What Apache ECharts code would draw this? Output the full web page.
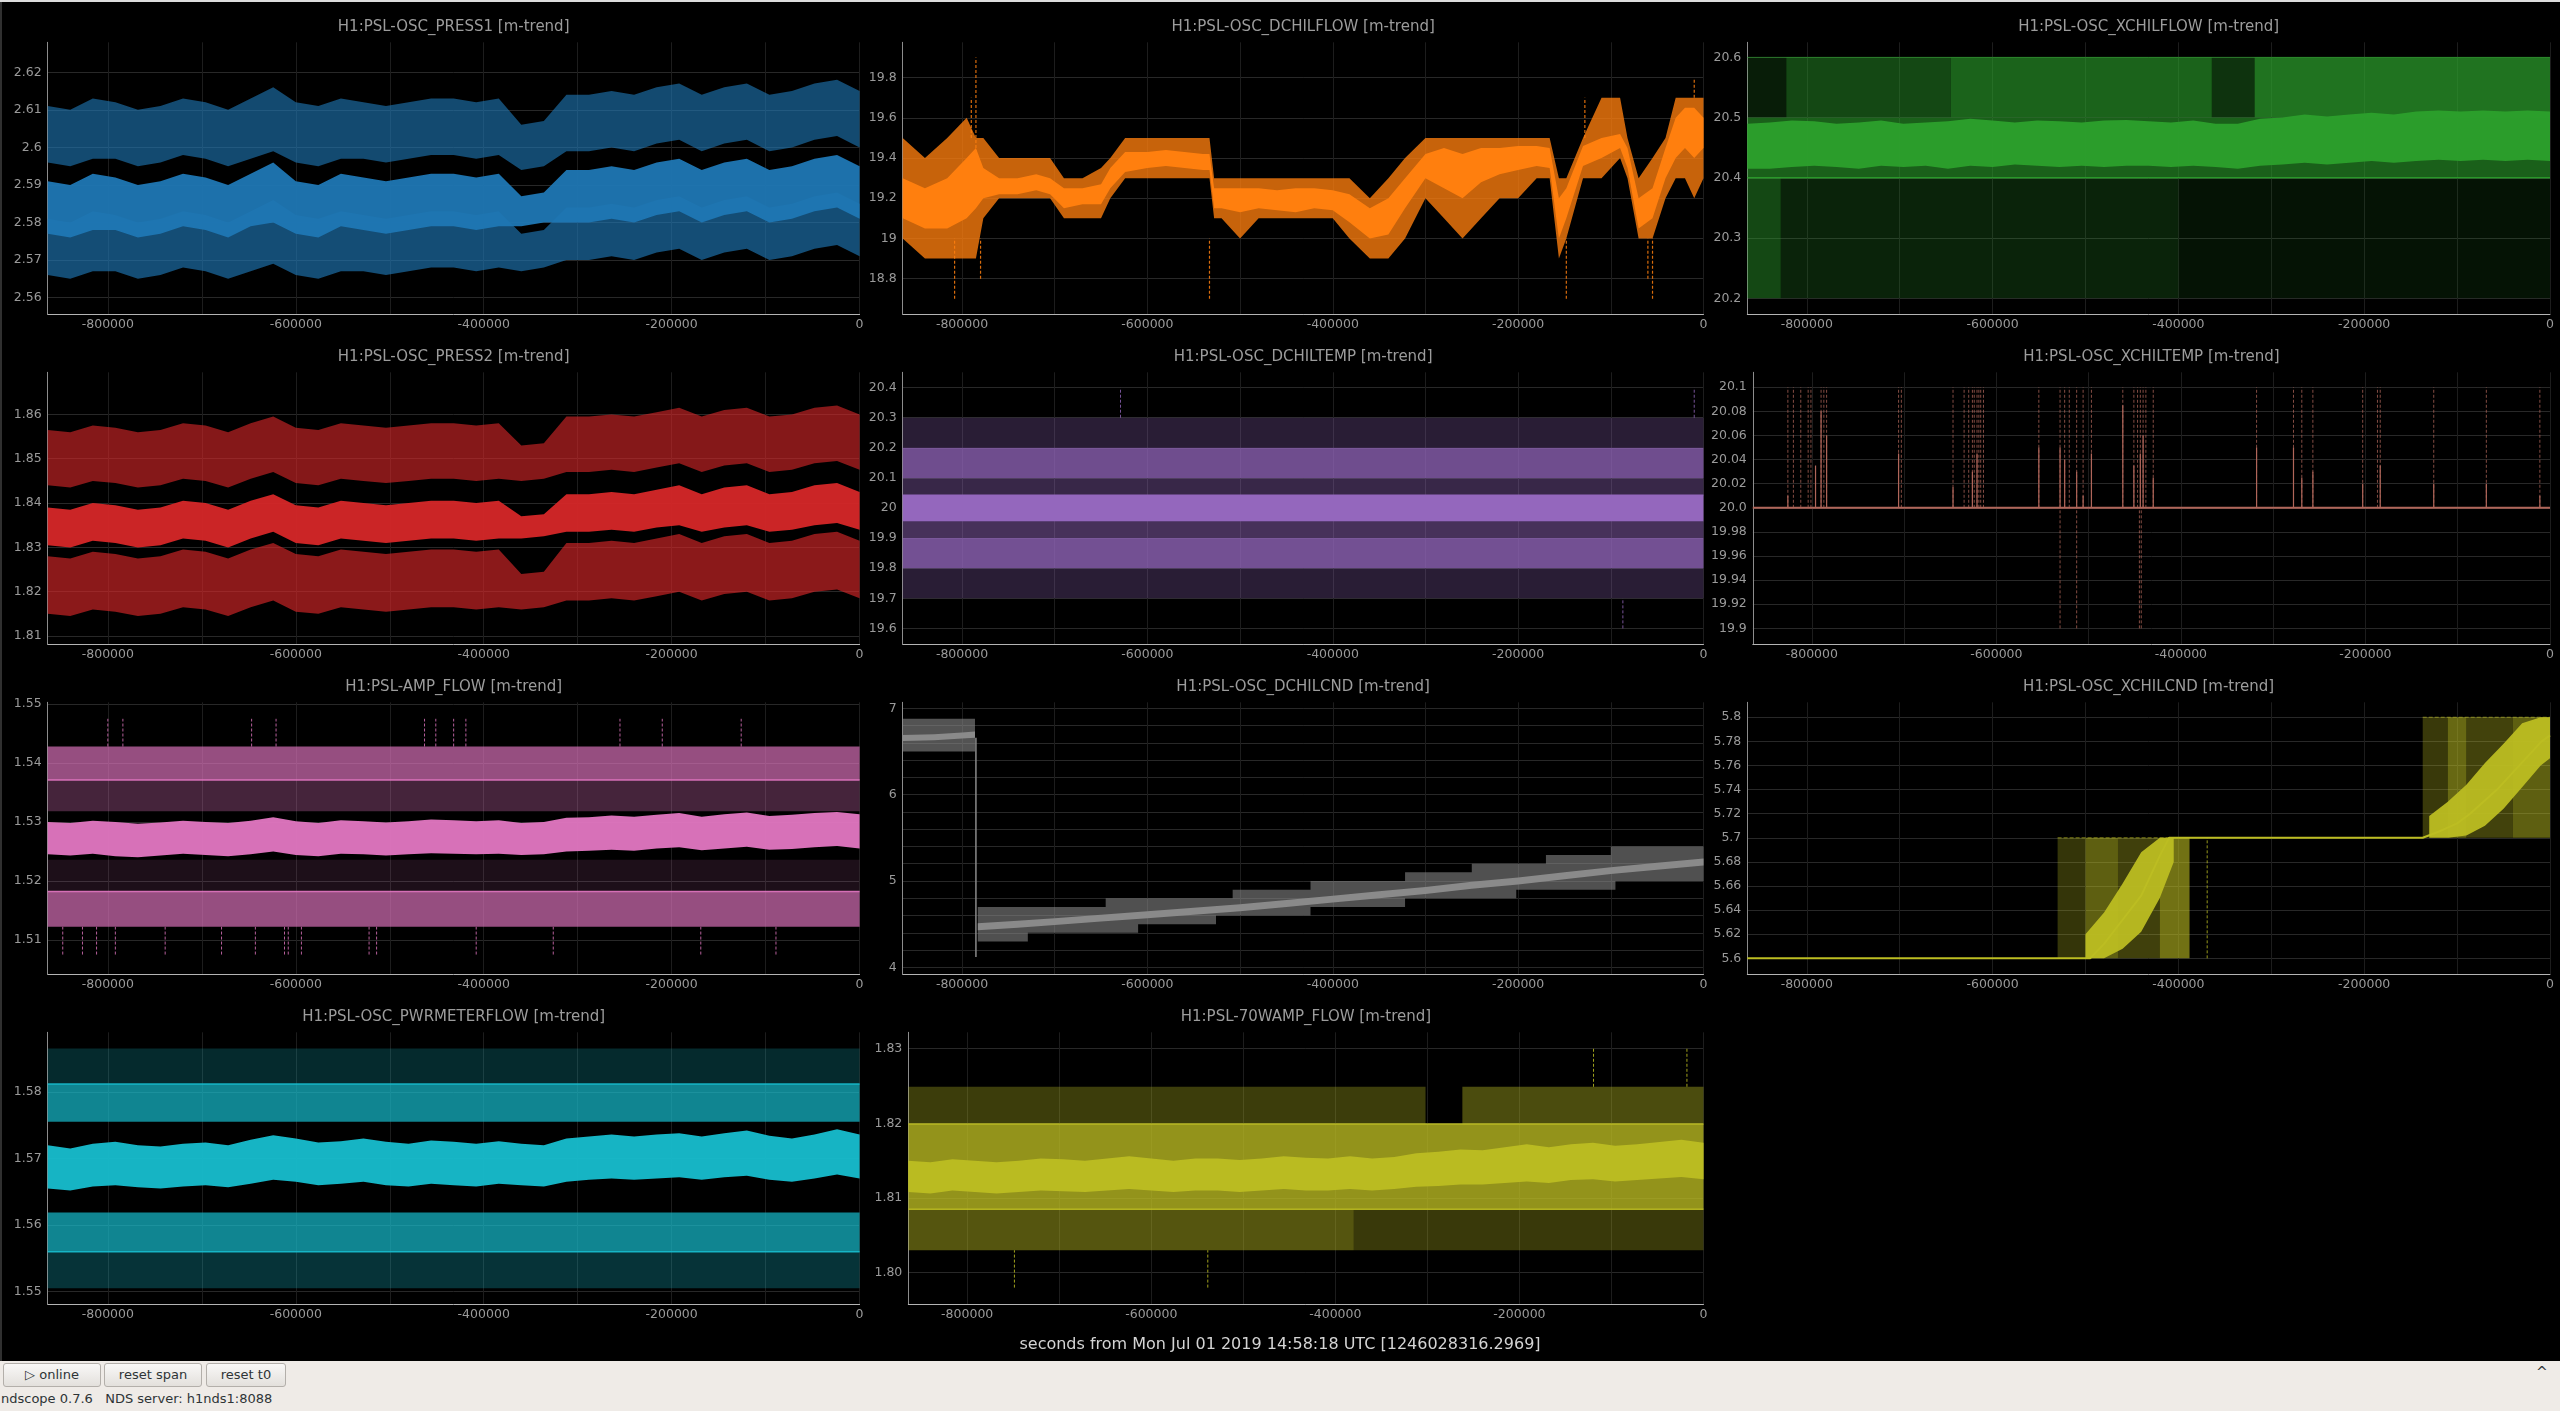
<!DOCTYPE html>
<html><head><meta charset="utf-8">
<script src="https://cdn.jsdelivr.net/npm/echarts@6/dist/echarts.min.js"></script>
<style>
html,body{margin:0;padding:0;background:#000;width:2560px;height:1411px;overflow:hidden;font-family:"DejaVu Sans",sans-serif}
#chart{position:absolute;left:0;top:0;width:2560px;height:1361px}
#bar{position:absolute;left:0;top:1361px;width:2560px;height:50px;background:#efebe7}
.btn{position:absolute;top:2px;height:22px;border:1px solid #b3afaa;border-radius:3px;background:linear-gradient(#f9f8f7,#e3e0dc);font-size:13px;color:#2e3436;text-align:center;line-height:22px}
#status{position:absolute;left:1px;top:30px;font-size:13px;color:#2e3436;white-space:pre}
#caret{position:absolute;left:2536px;top:3px;font-size:14px;color:#2e3436}
</style></head>
<body>
<div id="chart"></div>
<div id="bar">
  <div class="btn" style="left:3px;width:96px">▷ online</div>
  <div class="btn" style="left:104px;width:96px">reset span</div>
  <div class="btn" style="left:206px;width:78px">reset t0</div>
  <div id="caret">^</div>
  <div id="status">ndscope 0.7.6   NDS server: h1nds1:8088</div>
</div>
<script>
// ---------------- data ----------------
const X_LABEL_VALUES = [-800000,-600000,-400000,-200000,0];
const X_GRID_VALUES = [-800000,-700000,-600000,-500000,-400000,-300000,-200000,-100000,0];
const T37 = [-864000,-840000,-816000,-792000,-768000,-744000,-720000,-696000,-672000,-648000,-624000,-600000,-576000,-552000,-528000,-504000,-480000,-456000,-432000,-408000,-384000,-360000,-336000,-312000,-288000,-264000,-240000,-216000,-192000,-168000,-144000,-120000,-96000,-72000,-48000,-24000,0];
const FULL_T = [-864000,0];

// PRESS1
const press1Ticks = [2.56,2.57,2.58,2.59,2.6,2.61,2.62];
const press1Labels = ['2.56','2.57','2.58','2.59','2.6','2.61','2.62'];
const press1MeanLo = [2.577,2.576,2.578,2.578,2.576,2.577,2.579,2.578,2.576,2.579,2.580,2.577,2.576,2.579,2.578,2.577,2.578,2.579,2.579,2.578,2.579,2.579,2.580,2.580,2.580,2.581,2.580,2.582,2.583,2.580,2.582,2.583,2.580,2.581,2.583,2.584,2.581];
const press1MeanHi = [2.591,2.590,2.593,2.592,2.590,2.591,2.593,2.592,2.590,2.593,2.596,2.591,2.590,2.593,2.592,2.591,2.592,2.593,2.593,2.592,2.593,2.587,2.588,2.594,2.594,2.595,2.594,2.596,2.597,2.594,2.596,2.597,2.594,2.595,2.597,2.598,2.595];
const press1MaxLo = [2.596,2.595,2.597,2.597,2.595,2.596,2.598,2.597,2.595,2.597,2.599,2.596,2.595,2.597,2.597,2.596,2.597,2.598,2.598,2.597,2.598,2.594,2.595,2.599,2.599,2.600,2.599,2.601,2.602,2.599,2.601,2.602,2.599,2.600,2.602,2.603,2.600];
const press1MaxHi = [2.611,2.610,2.613,2.612,2.610,2.611,2.613,2.612,2.610,2.613,2.616,2.612,2.611,2.613,2.612,2.611,2.612,2.613,2.613,2.612,2.613,2.606,2.607,2.614,2.614,2.615,2.614,2.616,2.617,2.614,2.616,2.617,2.614,2.615,2.617,2.618,2.615];
const press1MinLo = [2.566,2.565,2.567,2.567,2.565,2.566,2.568,2.567,2.565,2.567,2.569,2.566,2.565,2.567,2.567,2.566,2.567,2.568,2.568,2.567,2.568,2.567,2.568,2.570,2.570,2.571,2.570,2.572,2.573,2.570,2.572,2.573,2.570,2.571,2.573,2.574,2.571];
const press1MinHi = [2.581,2.580,2.583,2.582,2.580,2.581,2.583,2.582,2.580,2.583,2.586,2.582,2.581,2.583,2.582,2.581,2.582,2.583,2.583,2.582,2.583,2.577,2.578,2.584,2.584,2.585,2.584,2.586,2.587,2.584,2.586,2.587,2.584,2.585,2.587,2.588,2.585];

// PRESS2
const press2Ticks = [1.81,1.82,1.83,1.84,1.85,1.86];
const press2Labels = ['1.81','1.82','1.83','1.84','1.85','1.86'];
const press2MeanLo = [1.8305,1.8300,1.8315,1.8310,1.8300,1.8305,1.8320,1.8315,1.8300,1.8320,1.8335,1.8310,1.8305,1.8320,1.8315,1.8310,1.8315,1.8320,1.8320,1.8315,1.8320,1.8320,1.8325,1.8335,1.8335,1.8340,1.8335,1.8345,1.8350,1.8335,1.8345,1.8350,1.8335,1.8340,1.8350,1.8355,1.8340];
const press2MeanHi = [1.8390,1.8385,1.8400,1.8395,1.8385,1.8390,1.8405,1.8400,1.8385,1.8405,1.8420,1.8395,1.8390,1.8405,1.8400,1.8395,1.8400,1.8405,1.8405,1.8400,1.8405,1.8370,1.8375,1.8420,1.8420,1.8425,1.8420,1.8430,1.8440,1.8420,1.8435,1.8440,1.8420,1.8425,1.8440,1.8445,1.8425];
const press2MaxLo = [1.8440,1.8435,1.8450,1.8445,1.8435,1.8440,1.8455,1.8450,1.8435,1.8455,1.8470,1.8445,1.8440,1.8455,1.8450,1.8445,1.8450,1.8455,1.8455,1.8450,1.8455,1.8450,1.8455,1.8470,1.8470,1.8475,1.8470,1.8480,1.8490,1.8470,1.8485,1.8490,1.8470,1.8475,1.8490,1.8495,1.8475];
const press2MaxHi = [1.8565,1.8560,1.8575,1.8570,1.8560,1.8565,1.8580,1.8575,1.8560,1.8580,1.8595,1.8570,1.8565,1.8580,1.8575,1.8570,1.8575,1.8580,1.8580,1.8575,1.8580,1.8530,1.8535,1.8595,1.8595,1.8600,1.8595,1.8605,1.8615,1.8595,1.8610,1.8615,1.8595,1.8600,1.8615,1.8620,1.8600];
const press2MinLo = [1.8150,1.8145,1.8160,1.8155,1.8145,1.8150,1.8165,1.8160,1.8145,1.8165,1.8180,1.8155,1.8150,1.8165,1.8160,1.8155,1.8160,1.8165,1.8165,1.8160,1.8165,1.8160,1.8165,1.8180,1.8180,1.8185,1.8180,1.8190,1.8200,1.8180,1.8195,1.8200,1.8180,1.8185,1.8200,1.8205,1.8185];
const press2MinHi = [1.8280,1.8275,1.8290,1.8285,1.8275,1.8280,1.8295,1.8290,1.8275,1.8295,1.8310,1.8285,1.8280,1.8295,1.8290,1.8285,1.8290,1.8295,1.8295,1.8290,1.8295,1.8240,1.8245,1.8310,1.8310,1.8315,1.8310,1.8320,1.8330,1.8310,1.8325,1.8330,1.8310,1.8315,1.8330,1.8335,1.8315];

// DCHILFLOW
const dflowTicks = [18.8,19,19.2,19.4,19.6,19.8];
const dflowLabels = ['18.8','19','19.2','19.4','19.6','19.8'];
const dflowT = [-864000,-840000,-816000,-795000,-785000,-777000,-760000,-740000,-720000,-705000,-690000,-670000,-650000,-640000,-624000,-600000,-580000,-560000,-540000,-533000,-528000,-520000,-500000,-480000,-460000,-440000,-420000,-400000,-382000,-360000,-340000,-322000,-300000,-280000,-260000,-240000,-220000,-200000,-180000,-166000,-156000,-148000,-130000,-110000,-90000,-82000,-70000,-55000,-41000,-30000,-20000,-10000,0];
const dflowEnvLo = [19.0,18.9,18.9,18.9,18.9,19.1,19.2,19.2,19.2,19.2,19.1,19.1,19.1,19.2,19.3,19.3,19.3,19.3,19.3,19.3,19.1,19.1,19.0,19.1,19.1,19.1,19.1,19.1,19.0,18.9,18.9,19.0,19.2,19.1,19.0,19.1,19.2,19.2,19.3,19.3,18.9,19.0,19.3,19.3,19.4,19.3,19.0,19.0,19.2,19.3,19.3,19.2,19.3];
const dflowEnvHi = [19.5,19.4,19.5,19.6,19.5,19.5,19.4,19.4,19.4,19.4,19.3,19.3,19.35,19.4,19.5,19.5,19.5,19.5,19.5,19.5,19.3,19.3,19.3,19.3,19.3,19.3,19.3,19.3,19.3,19.2,19.3,19.4,19.5,19.5,19.5,19.5,19.5,19.5,19.5,19.5,19.3,19.3,19.5,19.7,19.7,19.5,19.3,19.4,19.5,19.7,19.7,19.7,19.7];
const dflowMeanLo = [19.10,19.05,19.05,19.10,19.15,19.20,19.22,19.22,19.24,19.22,19.15,19.17,19.17,19.25,19.33,19.35,19.36,19.35,19.34,19.34,19.15,19.15,19.13,19.15,19.14,19.13,19.15,19.14,19.08,19.00,19.02,19.15,19.30,19.25,19.20,19.28,19.32,19.34,19.36,19.35,19.00,19.10,19.36,19.40,19.45,19.35,19.05,19.10,19.30,19.40,19.45,19.40,19.45];
const dflowMeanHi = [19.30,19.25,19.30,19.40,19.45,19.35,19.30,19.30,19.32,19.30,19.25,19.25,19.27,19.35,19.43,19.43,19.44,19.43,19.42,19.42,19.25,19.25,19.25,19.25,19.24,19.25,19.25,19.24,19.22,19.15,19.20,19.30,19.42,19.45,19.42,19.45,19.45,19.46,19.46,19.45,19.20,19.25,19.46,19.50,19.52,19.45,19.20,19.25,19.45,19.60,19.65,19.65,19.60];
const dflowSpikeT = [-808000,-790000,-785000,-780000,-533000,-148000,-128000,-60000,-55000,-10000];
const dflowSpikeLo = [18.7,19.5,19.4,18.8,18.7,18.7,19.5,18.8,18.7,19.7];
const dflowSpikeHi = [19.0,19.7,19.9,19.0,19.0,19.0,19.7,19.0,19.0,19.8];

// XCHILFLOW
const xflowTicks = [20.2,20.3,20.4,20.5,20.6];
const xflowLabels = ['20.2','20.3','20.4','20.5','20.6'];
const xflowMeanLo = [20.415,20.415,20.418,20.42,20.418,20.415,20.42,20.418,20.42,20.415,20.42,20.418,20.422,20.42,20.418,20.42,20.418,20.42,20.42,20.418,20.42,20.418,20.415,20.42,20.422,20.425,20.422,20.425,20.428,20.425,20.428,20.43,20.428,20.43,20.428,20.43,20.428];
const xflowMeanHi = [20.49,20.492,20.495,20.494,20.49,20.492,20.495,20.49,20.492,20.494,20.498,20.495,20.492,20.495,20.494,20.492,20.495,20.496,20.494,20.492,20.495,20.49,20.49,20.498,20.5,20.505,20.502,20.505,20.508,20.505,20.51,20.512,20.51,20.512,20.51,20.512,20.51];
const xflowBlkStart = [-864000,-822000,-645000,-364000,-318000,-864000,-864000,-828000,-400000];
const xflowBlkEnd = [-822000,-645000,-364000,-318000,0,0,-828000,-400000,0];
const xflowBlkLo = [20.5,20.5,20.5,20.5,20.5,20.4,20.2,20.2,20.2];
const xflowBlkHi = [20.6,20.6,20.6,20.6,20.6,20.5,20.4,20.4,20.4];
const xflowBlkAlpha = [0.18,0.45,0.62,0.32,0.72,0.6,0.45,0.22,0.12];
const xflowLine1 = [20.4,20.4];
const xflowLine2 = [20.6,20.6];

// DCHILTEMP
const dtempTicks = [19.6,19.7,19.8,19.9,20,20.1,20.2,20.3,20.4];
const dtempLabels = ['19.6','19.7','19.8','19.9','20','20.1','20.2','20.3','20.4'];
const dtempBlkStart = [-864000,-864000,-864000,-864000,-864000,-864000,-864000];
const dtempBlkEnd = [0,0,0,0,0,0,0];
const dtempBlkLo = [20.2,20.1,20.04,19.955,19.9,19.8,19.7];
const dtempBlkHi = [20.3,20.2,20.1,20.045,19.955,19.9,19.8];
const dtempBlkAlpha = [0.28,0.75,0.38,1.0,0.48,0.78,0.28];
const dtempSpikeT = [-629000,-10000,-87000];
const dtempSpikeLo = [20.3,20.3,19.6];
const dtempSpikeHi = [20.4,20.4,19.7];

// XCHILTEMP
const xtempTicks = [19.9,19.92,19.94,19.96,19.98,20,20.02,20.04,20.06,20.08,20.1];
const xtempLabels = ['19.9','19.92','19.94','19.96','19.98','20.0','20.02','20.04','20.06','20.08','20.1'];
const xtempBase = [20.0,20.0];
const xtempMaxSpikeT = [-826000,-820000,-812000,-804000,-801000,-790000,-787000,-784000,-706000,-703000,-647000,-635000,-630000,-626000,-624000,-621000,-619000,-617000,-614000,-554000,-531000,-526000,-521000,-513000,-506000,-497000,-463000,-451000,-447000,-444000,-441000,-438000,-430000,-318000,-278000,-269000,-257000,-203000,-187000,-184000,-126000,-69000,-11000];
const xtempMeanSpikeT = [-826000,-796000,-790000,-784000,-706000,-647000,-626000,-621000,-554000,-531000,-526000,-513000,-506000,-497000,-463000,-451000,-444000,-441000,-430000,-318000,-278000,-269000,-257000,-203000,-184000,-126000,-69000,-11000];
const xtempMeanSpikeHi = [20.01,20.035,20.08,20.06,20.045,20.017,20.03,20.045,20.05,20.05,20.04,20.03,20.01,20.045,20.085,20.035,20.045,20.06,20.025,20.05,20.05,20.025,20.03,20.02,20.035,20.02,20.02,20.01];
const xtempDownT = [-531000,-513000,-445000,-443000];

// AMP_FLOW
const ampTicks = [1.51,1.52,1.53,1.54,1.55];
const ampLabels = ['1.51','1.52','1.53','1.54','1.55'];
const ampBlkStart = [-864000,-864000,-864000,-864000];
const ampBlkEnd = [0,0,0,0];
const ampBlkLo = [1.5371,1.5318,1.5182,1.5122];
const ampBlkHi = [1.5428,1.5371,1.5236,1.5182];
const ampBlkAlpha = [0.66,0.3,0.13,0.66];
const ampLine1 = [1.5371,1.5371];
const ampLine2 = [1.5182,1.5182];
const ampMeanLo = [1.5245,1.5243,1.5246,1.5242,1.5240,1.5243,1.5246,1.5244,1.5242,1.5245,1.5250,1.5244,1.5242,1.5246,1.5245,1.5243,1.5245,1.5247,1.5246,1.5245,1.5246,1.5244,1.5245,1.5250,1.5251,1.5253,1.5251,1.5255,1.5257,1.5252,1.5255,1.5258,1.5253,1.5254,1.5257,1.5259,1.5255];
const ampMeanHi = [1.5300,1.5298,1.5302,1.5300,1.5297,1.5299,1.5302,1.5300,1.5298,1.5302,1.5308,1.5301,1.5298,1.5303,1.5301,1.5299,1.5301,1.5304,1.5303,1.5301,1.5303,1.5298,1.5300,1.5307,1.5308,1.5311,1.5309,1.5312,1.5315,1.5309,1.5313,1.5316,1.5310,1.5312,1.5315,1.5317,1.5313];
const ampUpT = [-800000,-784000,-647000,-621000,-463000,-451000,-432000,-419000,-255000,-210000,-126000];
const ampDownT = [-848000,-827000,-812000,-792000,-739000,-679000,-643000,-612000,-608000,-594000,-522000,-514000,-408000,-326000,-169000,-89000];

// DCHILCND
const dcndTicks = [4,5,6,7];
const dcndLabels = ['4','5','6','7'];
const dcndGrid = [4,4.2,4.4,4.6,4.8,5,5.2,5.4,5.6,5.8,6,6.2,6.4,6.6,6.8,7];
const dcndLeftT = [-864000,-830000,-800000,-786000];
const dcndLeftEnvLo = [6.50,6.50,6.50,6.50];
const dcndLeftEnvHi = [6.88,6.88,6.88,6.88];
const dcndLeftMeanLo = [6.62,6.63,6.65,6.66];
const dcndLeftMeanHi = [6.69,6.70,6.72,6.73];
const dcndEnvT = [-783000,-729000,-729000,-645000,-645000,-610000,-610000,-526000,-526000,-508000,-508000,-424000,-424000,-322000,-322000,-250000,-250000,-202000,-202000,-170000,-170000,-100000,-100000,-95000,-95000,0];
const dcndEnvLo = [4.30,4.30,4.40,4.40,4.40,4.40,4.50,4.50,4.60,4.60,4.60,4.60,4.70,4.70,4.80,4.80,4.80,4.80,4.90,4.90,4.90,4.90,4.90,4.90,5.00,5.00];
const dcndEnvHi = [4.70,4.70,4.70,4.70,4.80,4.80,4.80,4.80,4.80,4.80,4.90,4.90,5.00,5.00,5.10,5.10,5.20,5.20,5.20,5.20,5.30,5.30,5.40,5.40,5.40,5.40];
const dcndMeanT = [-783000,-740000,-700000,-650000,-600000,-550000,-500000,-450000,-400000,-350000,-300000,-250000,-200000,-150000,-100000,-50000,0];
const dcndMeanLo = [4.43,4.46,4.49,4.53,4.57,4.61,4.65,4.70,4.75,4.80,4.85,4.91,4.96,5.02,5.08,5.13,5.18];
const dcndMeanHi = [4.51,4.54,4.57,4.61,4.65,4.69,4.73,4.78,4.83,4.88,4.93,4.99,5.04,5.10,5.16,5.21,5.26];
const dcndDropT = [-785000];
const dcndDropLo = [4.12];
const dcndDropHi = [6.66];

// XCHILCND
const xcndTicks = [5.6,5.62,5.64,5.66,5.68,5.7,5.72,5.74,5.76,5.78,5.8];
const xcndLabels = ['5.6','5.62','5.64','5.66','5.68','5.7','5.72','5.74','5.76','5.78','5.8'];
const xcndMeanT = [-864000,-530000,-495000,-480000,-460000,-440000,-420000,-410000,-388000,-137000,-120000,-100000,-86000,-57000,-27000,-9000,0];
const xcndMeanV = [5.6,5.6,5.6,5.612,5.632,5.652,5.685,5.7,5.7,5.7,5.705,5.712,5.72,5.74,5.765,5.78,5.785];
const xcndRamp1T = [-500000,-480000,-460000,-440000,-420000,-405000];
const xcndRamp1Lo = [5.600,5.600,5.608,5.622,5.650,5.680];
const xcndRamp1Hi = [5.620,5.638,5.662,5.688,5.700,5.700];
const xcndRamp2T = [-130000,-110000,-90000,-70000,-50000,-30000,-10000,0];
const xcndRamp2Lo = [5.700,5.700,5.702,5.710,5.724,5.742,5.760,5.766];
const xcndRamp2Hi = [5.718,5.730,5.744,5.762,5.778,5.795,5.800,5.800];
const xcndBlkStart = [-530000,-500000,-465000,-420000,-137000,-110000,-90000,-40000];
const xcndBlkEnd = [-500000,-465000,-420000,-388000,-110000,-90000,-40000,0];
const xcndBlkLo = [5.6,5.6,5.6,5.6,5.7,5.7,5.7,5.7];
const xcndBlkHi = [5.7,5.7,5.7,5.7,5.8,5.8,5.8,5.8];
const xcndBlkAlpha = [0.28,0.5,0.34,0.6,0.3,0.55,0.35,0.5];
const xcndTop1T = [-530000,-388000];
const xcndTop1V = [5.7,5.7];
const xcndTop2T = [-137000,0];
const xcndTop2V = [5.8,5.8];
const xcndSpikeT = [-369000];

// PWRMETERFLOW
const pwrTicks = [1.55,1.56,1.57,1.58];
const pwrLabels = ['1.55','1.56','1.57','1.58'];
const pwrBlkStart = [-864000,-864000,-864000,-864000];
const pwrBlkEnd = [0,0,0,0];
const pwrBlkLo = [1.5812,1.5755,1.5560,1.5505];
const pwrBlkHi = [1.5865,1.5812,1.5619,1.5560];
const pwrBlkAlpha = [0.22,0.7,0.7,0.27];
const pwrLine1 = [1.5812,1.5812];
const pwrLine2 = [1.5560,1.5560];
const pwrMeanLo = [1.5655,1.5652,1.5658,1.5660,1.5657,1.5655,1.5658,1.5660,1.5657,1.5662,1.5668,1.5665,1.5660,1.5662,1.5665,1.5660,1.5658,1.5662,1.5660,1.5658,1.5662,1.5660,1.5658,1.5665,1.5668,1.5670,1.5668,1.5670,1.5672,1.5668,1.5672,1.5674,1.5668,1.5665,1.5670,1.5676,1.5670];
const pwrMeanHi = [1.5720,1.5715,1.5722,1.5725,1.5720,1.5718,1.5722,1.5724,1.5720,1.5728,1.5735,1.5730,1.5724,1.5726,1.5730,1.5725,1.5722,1.5727,1.5725,1.5722,1.5726,1.5722,1.5720,1.5730,1.5733,1.5736,1.5733,1.5736,1.5738,1.5733,1.5738,1.5742,1.5734,1.5730,1.5736,1.5744,1.5736];

// 70WAMP_FLOW
const wampTicks = [1.8,1.81,1.82,1.83];
const wampLabels = ['1.80','1.81','1.82','1.83'];
const wampBlkStart = [-864000,-262000,-864000,-864000,-380000];
const wampBlkEnd = [-302000,0,0,-380000,0];
const wampBlkLo = [1.8199,1.8199,1.8085,1.8030,1.8030];
const wampBlkHi = [1.8249,1.8249,1.8199,1.8085,1.8085];
const wampBlkAlpha = [0.32,0.4,0.78,0.45,0.3];
const wampLine1 = [1.8199,1.8199];
const wampLine2 = [1.8085,1.8085];
const wampMeanLo = [1.8108,1.8106,1.8110,1.8108,1.8106,1.8108,1.8110,1.8109,1.8108,1.8110,1.8112,1.8110,1.8108,1.8110,1.8110,1.8108,1.8110,1.8112,1.8110,1.8110,1.8112,1.8110,1.8112,1.8115,1.8116,1.8118,1.8118,1.8120,1.8122,1.8120,1.8124,1.8125,1.8122,1.8124,1.8126,1.8128,1.8125];
const wampMeanHi = [1.8150,1.8148,1.8152,1.8150,1.8148,1.8150,1.8153,1.8152,1.8150,1.8153,1.8156,1.8153,1.8150,1.8153,1.8153,1.8151,1.8153,1.8156,1.8154,1.8153,1.8156,1.8153,1.8155,1.8160,1.8162,1.8165,1.8164,1.8168,1.8172,1.8168,1.8172,1.8174,1.8170,1.8172,1.8175,1.8178,1.8174];
const wampSpikeT = [-119500,-18000,-748700,-538600];
const wampSpikeLo = [1.8249,1.8249,1.7980,1.7980];
const wampSpikeHi = [1.8300,1.8300,1.8030,1.8030];

// ---------------- layout / style ----------------
const ROW_TOP = [42.3, 372.3, 702.3, 1032.3];
const PLOT_H = 271.7;
const LAYOUT = [
  [0,47.7,859.6],[0,902.7,1703.5],[0,1747.3,2550],
  [1,47.7,859.6],[1,902.7,1703.5],[1,1752.8,2550],
  [2,47.7,859.6],[2,902.7,1703.5],[2,1747.3,2550],
  [3,47.7,859.6],[3,908.3,1703.5]
];
const Y_RANGE = [
  [2.5556,2.628],[18.624,19.976],[20.174,20.625],
  [1.8082,1.8695],[19.548,20.451],[19.887,20.1124],
  [1.5042,1.5503],[3.923,7.0695],[5.587,5.8124],
  [1.54815,1.58895],[1.7958,1.8322]
];
const FONT = '"DejaVu Sans", sans-serif';
const C = {blue:'#1f77b4',orange:'#ff7f0e',green:'#2ca02c',red:'#d62728',purple:'#9467bd',brown:'#b0665a',pink:'#e377c2',gray:'#8a8a8a',olive:'#bcbd22',cyan:'#17becf'};

function rgba(hex,a){const n=parseInt(hex.slice(1),16);return 'rgba('+((n>>16)&255)+','+((n>>8)&255)+','+(n&255)+','+a+')';}

const series = [];
function band(i,color,t,lo,hi,alpha){
  const data = t.map((x,k)=>[x,lo[k],hi[k]]);
  series.push({type:'custom',xAxisIndex:i,yAxisIndex:i,clip:true,silent:true,animation:false,
    encode:{x:0,y:[1,2]},data,
    renderItem(params,api){
      if(params.dataIndex!==0) return;
      const pts=[];
      for(let k=0;k<data.length;k++) pts.push(api.coord([data[k][0],data[k][2]]));
      for(let k=data.length-1;k>=0;k--) pts.push(api.coord([data[k][0],data[k][1]]));
      return {type:'polygon',shape:{points:pts},style:{fill:rgba(color,alpha),stroke:null}};
    }});
}
function blocks(i,color,s,e,lo,hi,a){
  const data = s.map((x,k)=>[x,e[k],lo[k],hi[k],a[k]]);
  series.push({type:'custom',xAxisIndex:i,yAxisIndex:i,clip:true,silent:true,animation:false,
    encode:{x:[0,1],y:[2,3]},data,
    renderItem(params,api){
      const p0=api.coord([api.value(0),api.value(3)]);
      const p1=api.coord([api.value(1),api.value(2)]);
      return {type:'rect',shape:{x:p0[0],y:p0[1],width:p1[0]-p0[0],height:p1[1]-p0[1]},style:{fill:rgba(color,api.value(4))}};
    }});
}
function spikes(i,color,t,lo,hi,alpha,dashed,width){
  const data = t.map((x,k)=>[x,Array.isArray(lo)?lo[k]:lo,Array.isArray(hi)?hi[k]:hi]);
  series.push({type:'custom',xAxisIndex:i,yAxisIndex:i,clip:true,silent:true,animation:false,
    encode:{x:0,y:[1,2]},data,
    renderItem(params,api){
      const a=api.coord([api.value(0),api.value(1)]);
      const b=api.coord([api.value(0),api.value(2)]);
      return {type:'line',shape:{x1:a[0],y1:a[1],x2:b[0],y2:b[1]},
        style:{stroke:rgba(color,alpha),lineWidth:width||1,lineDash:dashed?[3,2]:null}};
    }});
}
function line(i,color,t,v,width,alpha,dashed){
  series.push({type:'line',xAxisIndex:i,yAxisIndex:i,silent:true,animation:false,symbol:'none',showSymbol:false,clip:true,
    data:t.map((x,k)=>[x,v[k]]),
    lineStyle:{color:color,width:width,opacity:alpha,type:dashed?'dashed':'solid'}});
}

// ---------------- panels ----------------
const PANELS = [
  {title:'H1:PSL-OSC_PRESS1 [m-trend]',ticks:press1Ticks,labels:press1Labels,draw(i){
    band(i,C.blue,T37,press1MinLo,press1MinHi,0.65);
    band(i,C.blue,T37,press1MaxLo,press1MaxHi,0.62);
    band(i,C.blue,T37,press1MeanLo,press1MeanHi,0.95);}},
  {title:'H1:PSL-OSC_DCHILFLOW [m-trend]',ticks:dflowTicks,labels:dflowLabels,draw(i){
    band(i,C.orange,dflowT,dflowEnvLo,dflowEnvHi,0.78);
    band(i,C.orange,dflowT,dflowMeanLo,dflowMeanHi,1);
    spikes(i,C.orange,dflowSpikeT,dflowSpikeLo,dflowSpikeHi,0.85,true,1.2);}},
  {title:'H1:PSL-OSC_XCHILFLOW [m-trend]',ticks:xflowTicks,labels:xflowLabels,draw(i){
    blocks(i,C.green,xflowBlkStart,xflowBlkEnd,xflowBlkLo,xflowBlkHi,xflowBlkAlpha);
    band(i,C.green,T37,xflowMeanLo,xflowMeanHi,0.95);
    line(i,C.green,FULL_T,xflowLine1,1.5,0.9,false);
    line(i,C.green,FULL_T,xflowLine2,1,0.6,false);}},
  {title:'H1:PSL-OSC_PRESS2 [m-trend]',ticks:press2Ticks,labels:press2Labels,draw(i){
    band(i,C.red,T37,press2MinLo,press2MinHi,0.65);
    band(i,C.red,T37,press2MaxLo,press2MaxHi,0.62);
    band(i,C.red,T37,press2MeanLo,press2MeanHi,0.95);}},
  {title:'H1:PSL-OSC_DCHILTEMP [m-trend]',ticks:dtempTicks,labels:dtempLabels,draw(i){
    blocks(i,C.purple,dtempBlkStart,dtempBlkEnd,dtempBlkLo,dtempBlkHi,dtempBlkAlpha);
    spikes(i,C.purple,dtempSpikeT,dtempSpikeLo,dtempSpikeHi,0.8,true,1);}},
  {title:'H1:PSL-OSC_XCHILTEMP [m-trend]',ticks:xtempTicks,labels:xtempLabels,draw(i){
    spikes(i,C.brown,xtempMaxSpikeT,20.0,20.1,0.75,true,1);
    spikes(i,C.brown,xtempMeanSpikeT,20.0,xtempMeanSpikeHi,1,false,1.2);
    spikes(i,C.brown,xtempDownT,19.9,20.0,0.75,true,1);
    line(i,C.brown,FULL_T,xtempBase,2,1,false);}},
  {title:'H1:PSL-AMP_FLOW [m-trend]',ticks:ampTicks,labels:ampLabels,draw(i){
    blocks(i,C.pink,ampBlkStart,ampBlkEnd,ampBlkLo,ampBlkHi,ampBlkAlpha);
    band(i,C.pink,T37,ampMeanLo,ampMeanHi,0.95);
    line(i,C.pink,FULL_T,ampLine1,1.5,0.9,false);
    line(i,C.pink,FULL_T,ampLine2,1.5,0.9,false);
    spikes(i,C.pink,ampUpT,1.5428,1.5475,0.8,true,1);
    spikes(i,C.pink,ampDownT,1.5075,1.5122,0.8,true,1);}},
  {title:'H1:PSL-OSC_DCHILCND [m-trend]',ticks:dcndTicks,labels:dcndLabels,grid:dcndGrid,draw(i){
    band(i,C.gray,dcndLeftT,dcndLeftEnvLo,dcndLeftEnvHi,0.6);
    band(i,C.gray,dcndLeftT,dcndLeftMeanLo,dcndLeftMeanHi,1);
    band(i,C.gray,dcndEnvT,dcndEnvLo,dcndEnvHi,0.58);
    band(i,C.gray,dcndMeanT,dcndMeanLo,dcndMeanHi,1);
    spikes(i,C.gray,dcndDropT,dcndDropLo,dcndDropHi,1,false,1.5);}},
  {title:'H1:PSL-OSC_XCHILCND [m-trend]',ticks:xcndTicks,labels:xcndLabels,draw(i){
    blocks(i,C.olive,xcndBlkStart,xcndBlkEnd,xcndBlkLo,xcndBlkHi,xcndBlkAlpha);
    band(i,C.olive,xcndRamp1T,xcndRamp1Lo,xcndRamp1Hi,0.95);
    band(i,C.olive,xcndRamp2T,xcndRamp2Lo,xcndRamp2Hi,0.95);
    line(i,C.olive,xcndTop1T,xcndTop1V,1,0.6,true);
    line(i,C.olive,xcndTop2T,xcndTop2V,1,0.6,true);
    spikes(i,C.olive,xcndSpikeT,5.6,5.7,0.8,true,1);
    line(i,C.olive,xcndMeanT,xcndMeanV,2,1,false);}},
  {title:'H1:PSL-OSC_PWRMETERFLOW [m-trend]',ticks:pwrTicks,labels:pwrLabels,draw(i){
    blocks(i,C.cyan,pwrBlkStart,pwrBlkEnd,pwrBlkLo,pwrBlkHi,pwrBlkAlpha);
    band(i,C.cyan,T37,pwrMeanLo,pwrMeanHi,0.95);
    line(i,C.cyan,FULL_T,pwrLine1,1.5,0.9,false);
    line(i,C.cyan,FULL_T,pwrLine2,1.5,0.9,false);}},
  {title:'H1:PSL-70WAMP_FLOW [m-trend]',ticks:wampTicks,labels:wampLabels,draw(i){
    blocks(i,C.olive,wampBlkStart,wampBlkEnd,wampBlkLo,wampBlkHi,wampBlkAlpha);
    band(i,C.olive,T37,wampMeanLo,wampMeanHi,0.95);
    line(i,C.olive,FULL_T,wampLine1,1.5,0.9,false);
    line(i,C.olive,FULL_T,wampLine2,1.5,0.9,false);
    spikes(i,C.olive,wampSpikeT,wampSpikeLo,wampSpikeHi,0.85,true,1);}}
];

const grids=[],xAxes=[],yAxes=[],graphics=[];
PANELS.forEach((p,i)=>{
  const [row,l,r]=LAYOUT[i];
  grids.push({left:l,top:ROW_TOP[row],width:r-l,height:PLOT_H,containLabel:false,outerBoundsMode:'none'});
  xAxes.push({type:'value',gridIndex:i,min:-864000,max:0,
    axisLine:{show:true,onZero:false,lineStyle:{color:'#b4b4b4',width:1}},
    axisTick:{show:false,customValues:X_GRID_VALUES},
    axisLabel:{customValues:X_LABEL_VALUES,color:'#9a9a9a',fontSize:12.5,fontFamily:FONT,margin:4,formatter:v=>String(Math.round(v))},
    splitLine:{show:true,lineStyle:{color:'#1d1d1d',width:1}}});
  const ticks=p.ticks,labels=p.labels;
  yAxes.push({type:'value',gridIndex:i,min:Y_RANGE[i][0],max:Y_RANGE[i][1],
    axisLine:{show:true,onZero:false,lineStyle:{color:'#8c8c8c',width:1}},
    axisTick:{show:false,customValues:p.grid||ticks},
    axisLabel:{customValues:ticks,color:'#9a9a9a',fontSize:12.5,fontFamily:FONT,margin:6,
      formatter:v=>{let b=0;for(let k=1;k<ticks.length;k++){if(Math.abs(ticks[k]-v)<Math.abs(ticks[b]-v))b=k;}return labels[b];}},
    splitLine:{show:true,lineStyle:{color:'#282828',width:1}}});
  graphics.push({type:'text',x:(l+r)/2,y:ROW_TOP[row]-15.3,silent:true,
    style:{text:p.title,fill:'#9c9c9c',font:'15px '+FONT,align:'center',verticalAlign:'middle',textAlign:'center',textVerticalAlign:'middle'}});
  p.draw(i);
});
graphics.push({type:'text',x:1280,y:1345,silent:true,
  style:{text:'seconds from Mon Jul 01 2019 14:58:18 UTC [1246028316.2969]',fill:'#d4d4d4',font:'16px '+FONT,align:'center',verticalAlign:'middle',textAlign:'center',textVerticalAlign:'middle'}});
graphics.push({type:'rect',shape:{x:0,y:0,width:2560,height:2},style:{fill:'#dcdcdc'},silent:true});
graphics.push({type:'rect',shape:{x:0,y:2,width:2,height:1359},style:{fill:'#303030'},silent:true});

const chart = echarts.init(document.getElementById('chart'),null,{renderer:'canvas'});
chart.setOption({backgroundColor:'#000',animation:false,grid:grids,xAxis:xAxes,yAxis:yAxes,series:series,graphic:graphics});
</script>
</body></html>
